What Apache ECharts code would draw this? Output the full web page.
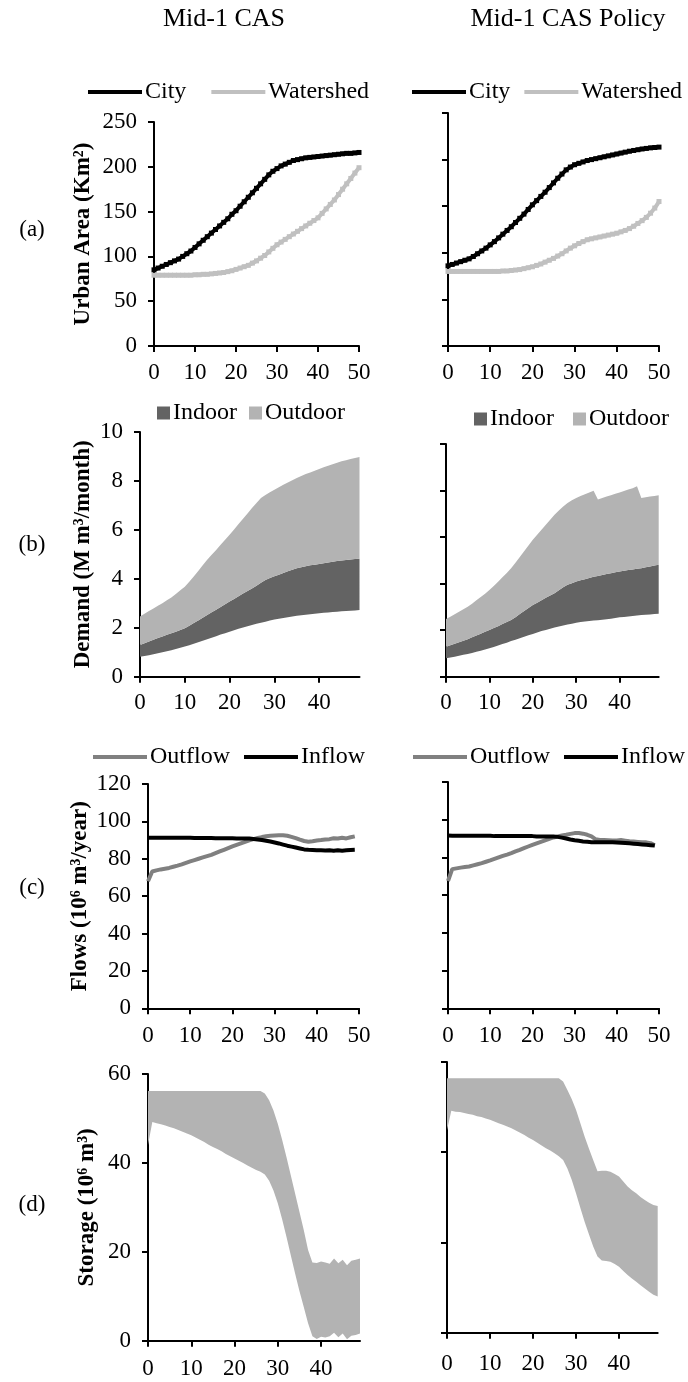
<!DOCTYPE html>
<html><head><meta charset="utf-8">
<script src="https://cdn.jsdelivr.net/npm/echarts@6/dist/echarts.min.js"></script>
<style>html,body{margin:0;padding:0;background:#fff}#c{width:688px;height:1382px}</style>
</head><body><div id="c"></div>
<script>
// ---------- DATA ----------
const colTitles = ['Mid-1 CAS', 'Mid-1 CAS Policy'];
const rowLabels = ['(a)', '(b)', '(c)', '(d)'];
const yNames = ['Urban Area (Km²)', 'Demand (M m³/month)', 'Flows (10⁶ m³/year)', 'Storage (10⁶ m³)'];

const yearsA = [0,1,2,3,4,5,6,7,8,9,10,11,12,13,14,15,16,17,18,19,20,21,22,23,24,25,26,27,28,29,30,31,32,33,34,35,36,37,38,39,40,41,42,43,44,45,46,47,48,49,50];
const yearsB = [0,1,2,3,4,5,6,7,8,9,10,11,12,13,14,15,16,17,18,19,20,21,22,23,24,25,26,27,28,29,30,31,32,33,34,35,36,37,38,39,40,41,42,43,44,45,46,47,48,49];

// (a) urban area, km2
const cityL = [85,87,89,91,93,95,97,100,103,106,110,114,118,122,126,130,134,138,142,147,151,156,161,166,171,176,181,186,191,195,198,201,203,205,207,208,209,210,210.5,211,211.5,212,212.5,213,213.5,214,214.5,215,215,215.5,216];
const watershedL = [79,79,79,79,79,79,79,79,79,79,79.5,79.5,80,80,80.5,81,81.5,82,83,84,85.5,87,88.5,90,92.5,95,98,101,105,109,113,116,119,122,125,128,131,134,137,140,143,148,153,158,163,169,175,181,187,193,199];
const cityR = [86,87.5,89,90.5,92,93.5,96,99,102,105,108.5,112,116,120,124,128,132.5,137,141.5,146.5,151.5,156,160.5,165,170,175,180,184.5,189,192,194.5,196,197.5,199,200,201,202,203,204,205,206,207,208,209,209.8,210.6,211.4,212,212.6,213,213.4];
const watershedR = [80,80,80,80,80,80,80,80,80,80,80,80,80,80.5,80.5,81,81.5,82,83,84,85,86.5,88,90,92,94,96.5,99,102,105,107.5,110,112,114,115,116,117,118,119,120,121,122.5,124,126,128.5,131.5,134.5,138,142.5,148,155];

// (b) demand, M m3/month: lower edge, top of indoor band, top of outdoor band
const demandBaseL = [0.82,0.85,0.88,0.92,0.96,1.0,1.04,1.08,1.13,1.18,1.23,1.29,1.35,1.41,1.47,1.53,1.59,1.65,1.72,1.78,1.84,1.9,1.96,2.01,2.06,2.11,2.16,2.2,2.25,2.3,2.34,2.37,2.4,2.43,2.46,2.49,2.51,2.53,2.55,2.57,2.59,2.61,2.62,2.64,2.65,2.67,2.68,2.7,2.71,2.73];
const indoorTopL = [1.3,1.37,1.44,1.51,1.58,1.64,1.71,1.78,1.84,1.91,1.98,2.08,2.19,2.3,2.41,2.52,2.63,2.74,2.85,2.96,3.07,3.18,3.29,3.4,3.5,3.6,3.72,3.84,3.95,4.03,4.1,4.17,4.24,4.31,4.37,4.43,4.47,4.51,4.55,4.58,4.61,4.64,4.67,4.7,4.73,4.75,4.77,4.79,4.81,4.82];
const outdoorTopL = [2.46,2.57,2.68,2.79,2.9,3.0,3.12,3.24,3.38,3.53,3.68,3.88,4.09,4.32,4.55,4.78,4.98,5.18,5.39,5.6,5.8,6.02,6.24,6.45,6.67,6.89,7.1,7.3,7.43,7.54,7.64,7.74,7.84,7.94,8.03,8.12,8.2,8.28,8.35,8.42,8.49,8.56,8.62,8.68,8.74,8.8,8.85,8.9,8.94,8.98];
const demandBaseR = [0.79,0.82,0.86,0.9,0.94,0.98,1.02,1.07,1.12,1.17,1.22,1.28,1.34,1.4,1.46,1.53,1.59,1.65,1.72,1.78,1.84,1.9,1.96,2.01,2.06,2.11,2.16,2.2,2.24,2.28,2.32,2.35,2.37,2.39,2.41,2.43,2.45,2.47,2.49,2.52,2.55,2.57,2.59,2.61,2.63,2.65,2.66,2.67,2.69,2.7];
const indoorTopR = [1.29,1.35,1.42,1.48,1.55,1.61,1.69,1.77,1.85,1.93,2.01,2.09,2.17,2.26,2.35,2.44,2.56,2.69,2.82,2.95,3.08,3.18,3.28,3.39,3.49,3.59,3.72,3.84,3.95,4.02,4.09,4.14,4.19,4.24,4.29,4.33,4.37,4.41,4.45,4.49,4.52,4.55,4.58,4.61,4.64,4.66,4.7,4.74,4.78,4.81];
const outdoorTopR = [2.48,2.58,2.68,2.79,2.9,3.01,3.14,3.28,3.42,3.57,3.73,3.9,4.08,4.27,4.46,4.66,4.9,5.14,5.39,5.64,5.88,6.1,6.32,6.53,6.75,6.96,7.14,7.31,7.46,7.58,7.68,7.76,7.84,7.92,7.99,7.62,7.68,7.74,7.8,7.86,7.92,7.98,8.04,8.1,8.18,7.68,7.71,7.74,7.77,7.8];

// (c) flows, 10^6 m3/year
const outflowL = [68,73.2,73.8,74.3,74.7,75.1,75.7,76.3,77,77.8,78.6,79.3,80,80.7,81.4,82.1,83,83.9,84.8,85.7,86.6,87.4,88.2,89,89.8,90.5,91.1,91.6,92,92.3,92.5,92.6,92.6,92.3,91.7,91,90.2,89.5,89.1,89.4,89.8,90,90.3,90.5,91,90.8,91.2,90.9,91.5,92];
const inflowL = [91.3,91.3,91.3,91.3,91.3,91.3,91.2,91.2,91.2,91.2,91.2,91.1,91.1,91.1,91.1,91.1,91,91,91,91,91,90.9,90.9,90.9,90.8,90.6,90.3,90,89.6,89.2,88.7,88.2,87.6,87,86.5,86,85.5,85,84.8,84.7,84.6,84.5,84.4,84.5,84.3,84.5,84.3,84.5,84.7,84.8];
const outflowR = [67.5,73.8,74.2,74.6,74.9,75.2,75.8,76.4,77,77.7,78.4,79.2,80,80.8,81.5,82.3,83.2,84,84.9,85.8,86.7,87.5,88.3,89.1,89.9,90.6,91.1,91.6,92,92.5,92.9,92.9,92.6,92,91.2,89.6,89.3,89.2,89.1,89,89,89.2,88.9,88.6,88.4,88.2,88,88,87.6,86.5];
const inflowR = [91.6,91.5,91.5,91.5,91.5,91.5,91.5,91.5,91.5,91.5,91.5,91.3,91.3,91.3,91.3,91.3,91.3,91.3,91.3,91.3,91.3,91.1,91.1,91.1,91.1,91.1,90.9,90.5,90,89.5,89.1,88.8,88.5,88.3,88.1,88,88,88,88,88,87.9,87.8,87.7,87.5,87.3,87.1,86.9,86.7,86.5,86.3];

// (d) storage range, 10^6 m3
const storageMinL = [44,49.2,48.9,48.7,48.4,48.1,47.8,47.4,47,46.6,46.2,45.7,45.2,44.7,44.1,43.6,43.1,42.6,42,41.5,41,40.5,40,39.4,38.9,38.4,38,37.4,36,33.8,30.9,27.3,23.4,19.2,15.1,11.2,7.6,3.9,1,0.4,0.9,0.7,1,1.8,0.8,1.6,0.3,1.1,1.3,1.6];
const storageMaxL = [56.2,56.2,56.2,56.2,56.2,56.2,56.2,56.2,56.2,56.2,56.2,56.2,56.2,56.2,56.2,56.2,56.2,56.2,56.2,56.2,56.2,56.2,56.2,56.2,56.2,56.2,56.2,55.6,54.1,51.8,48.8,45.2,41.3,37.2,33.1,29,24.9,20.4,17.6,17.5,17.8,17.6,17.3,18.5,17.4,18.2,17,18,18.2,18.5];
const storageMinR = [44.9,49.2,49,48.9,48.7,48.5,48.3,48,47.8,47.5,47.2,46.8,46.4,46.1,45.7,45.3,44.8,44.3,43.8,43.2,42.7,42.1,41.5,40.9,40.4,39.8,39.1,38.3,36.4,33.9,30.9,27.7,24.6,21.8,19.1,16.9,16,15.9,15.7,15.2,14.6,13.7,12.8,12,11.3,10.5,9.8,9.1,8.4,8];
const storageMaxR = [56.4,56.4,56.4,56.4,56.4,56.4,56.4,56.4,56.4,56.4,56.4,56.4,56.4,56.4,56.4,56.4,56.4,56.4,56.4,56.4,56.4,56.4,56.4,56.4,56.4,56.4,56.4,55.7,53.8,51.8,49.4,46.5,43.5,40.8,38.3,35.8,35.9,35.9,35.7,35.2,34.6,33.5,32.4,31.6,30.9,30.1,29.4,28.8,28.3,28.1];

// ---------- BUILD ----------
const FONT = '"Liberation Serif", "Times New Roman", serif';
const pairs = (xs, ys) => ys.map((v, i) => [xs[i], v]);
const diff = (a, b) => a.map((v, i) => +(v - b[i]).toFixed(3));

const grids = [
  {left:154, top:122, width:205, height:224},
  {left:448, top:113, width:211, height:233},
  {left:140, top:432, width:219.5, height:244.7},
  {left:446, top:444, width:212.7, height:232.7},
  {left:148, top:784, width:211, height:224.3},
  {left:448, top:782, width:211, height:226.3},
  {left:148, top:1074, width:212, height:266.7},
  {left:447, top:1062, width:210.7, height:270.7}
];

const axisLine = {show:true, lineStyle:{color:'#000', width:2}};
const axisTick = {show:true, length:6, lineStyle:{color:'#000', width:2}};
const lbl = {fontFamily:FONT, fontSize:23, color:'#000'};

const yRanges = [[0,250,50],[0,10,2],[0,120,20],[0,60,20]];
const nameGaps = [59, 45, 56, 49];
const xMargins = [15, 15, 16, 17];

const xAxes = [], yAxes = [];
for (let g = 0; g < 8; g++) {
  const row = Math.floor(g / 2), col = g % 2;
  if (row === 0 || row === 2) {
    xAxes.push({gridIndex:g, type:'value', min:0, max:50, interval:10,
      axisLine, axisTick, splitLine:{show:false},
      axisLabel:{...lbl, margin:xMargins[row]}});
  } else {
    xAxes.push({gridIndex:g, type:'category', data:yearsB.map(String), boundaryGap:false,
      axisLine, axisTick:{...axisTick, interval:9}, splitLine:{show:false},
      axisLabel:{...lbl, interval:9, margin:xMargins[row] + (col && row === 3 ? 3 : 0)}});
  }
  const r = yRanges[row];
  yAxes.push({gridIndex:g, type:'value', min:r[0], max:r[1], interval:r[2],
    axisLine, axisTick, splitLine:{show:false},
    axisLabel:{...lbl, show: col === 0, margin:17},
    name: col === 0 ? yNames[row] : '', nameLocation:'middle', nameRotate:90, nameGap:nameGaps[row],
    nameTextStyle:{fontFamily:FONT, fontSize:23, fontWeight:'bold', color:'#000'}});
}

const lineS = (name, g, xs, ys, color, width, sym) => ({
  name, type:'line', xAxisIndex:g, yAxisIndex:g, data:pairs(xs, ys),
  color, lineStyle:{color, width}, itemStyle:{color},
  symbol: sym ? 'rect' : 'none', symbolSize: sym ? 5 : 0, showSymbol: !!sym,
  smooth:false, silent:true
});
const areaS = (name, g, stack, ys, color) => ({
  name, type:'line', xAxisIndex:g, yAxisIndex:g, data:ys, stack,
  symbol:'none', showSymbol:false, lineStyle:{width:0, opacity:0},
  areaStyle: color ? {color, opacity:1} : {opacity:0},
  color: color || 'rgba(0,0,0,0)', itemStyle:{color: color || 'rgba(0,0,0,0)'}, silent:true
});

const C_WS = '#c0c0c0', C_IN = '#636363', C_OUT = '#b3b3b3', C_OF = '#808080';
const series = [
  lineS('Watershed', 0, yearsA, watershedL, C_WS, 4, true),
  lineS('City', 0, yearsA, cityL, '#000', 4, true),
  lineS('Watershed', 1, yearsA, watershedR, C_WS, 4, true),
  lineS('City', 1, yearsA, cityR, '#000', 4, true),
  areaS('baseBL', 2, 'bL', demandBaseL, null),
  areaS('Indoor', 2, 'bL', diff(indoorTopL, demandBaseL), C_IN),
  areaS('Outdoor', 2, 'bL', diff(outdoorTopL, indoorTopL), C_OUT),
  areaS('baseBR', 3, 'bR', demandBaseR, null),
  areaS('Indoor', 3, 'bR', diff(indoorTopR, demandBaseR), C_IN),
  areaS('Outdoor', 3, 'bR', diff(outdoorTopR, indoorTopR), C_OUT),
  lineS('Outflow', 4, yearsB, outflowL, C_OF, 4, false),
  lineS('Inflow', 4, yearsB, inflowL, '#000', 4, false),
  lineS('Outflow', 5, yearsB, outflowR, C_OF, 4, false),
  lineS('Inflow', 5, yearsB, inflowR, '#000', 4, false),
  areaS('baseDL', 6, 'dL', storageMinL, null),
  areaS('StorageL', 6, 'dL', diff(storageMaxL, storageMinL), C_OUT),
  areaS('baseDR', 7, 'dR', storageMinR, null),
  areaS('StorageR', 7, 'dR', diff(storageMaxR, storageMinR), C_OUT)
];

const legTxt = {fontFamily:FONT, fontSize:24, color:'#000', padding:[0,0,0,-2]};
const lineLeg = (data, left, top, gap) => ({data, left, top, icon:'rect', itemWidth:54, itemHeight:4,
  itemGap:gap, textStyle:legTxt, selectedMode:false, padding:0});
const boxLeg = (data, left, top, gap) => ({data, left, top, icon:'rect', itemWidth:13, itemHeight:13,
  itemGap:gap, textStyle:legTxt, selectedMode:false, padding:0});

const legend = [
  lineLeg(['City','Watershed'], 88, 80, 25),
  lineLeg(['City','Watershed'], 412, 80, 14),
  boxLeg(['Indoor','Outdoor'], 157, 401, 12),
  boxLeg(['Indoor','Outdoor'], 474, 407, 19),
  lineLeg(['Outflow','Inflow'], 93, 745, 14),
  lineLeg(['Outflow','Inflow'], 413, 745, 14)
];

const rowY = [230, 545, 888, 1205];
const graphic = [
  {type:'text', x:224, y:19, style:{text:colTitles[0], font:'26px ' + FONT, fill:'#000', align:'center', verticalAlign:'middle'}},
  {type:'text', x:568, y:19, style:{text:colTitles[1], font:'26px ' + FONT, fill:'#000', align:'center', verticalAlign:'middle'}}
].concat(rowLabels.map((t, i) => ({type:'text', x:32, y:rowY[i],
  style:{text:t, font:'23px ' + FONT, fill:'#000', align:'center', verticalAlign:'middle'}})));

const chart = echarts.init(document.getElementById('c'), null, {renderer:'canvas'});
chart.setOption({
  animation:false, backgroundColor:'#fff',
  grid:grids, xAxis:xAxes, yAxis:yAxes, series, legend, graphic
});
</script></body></html>
